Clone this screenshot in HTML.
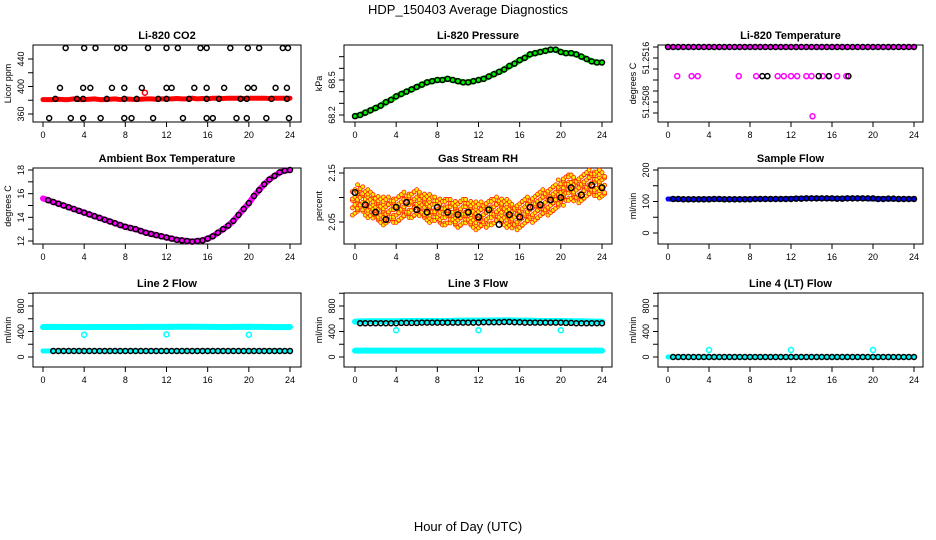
<!DOCTYPE html>
<html><head><meta charset="utf-8"><style>
html,body{margin:0;padding:0;background:#fff;}
svg{display:block;font-family:"Liberation Sans",sans-serif;}
</style></head><body>
<svg id="chart" width="936" height="540" viewBox="0 0 936 540">
<text x="468" y="14" text-anchor="middle" font-size="13">HDP_150403  Average Diagnostics</text>
<text x="468" y="531" text-anchor="middle" font-size="13">Hour of Day (UTC)</text>
</svg>
<script>
const xTicks = [0,4,8,12,16,20,24];
const halfHours = [];
for (let i = 0; i <= 48; i++) halfHours.push(i/2);
const hours = [];
for (let i = 0; i <= 24; i++) hours.push(i);

// CO2
const co2Red = [381,381,381,381.5,381,381,382,381,381,381.5,382,381,381,381.5,382,381,382,381.5,381,381.5,382,382,381.5,382,382,382,382.5,382,382,383,382,382.5,382,383,383,382.5,383,383,383,382.5,383,383,383,383,382.5,383,383,383,383];
const co2TopH = [2.2,4.0,5.1,7.2,7.9,10.2,12.0,13.1,15.3,15.9,18.2,19.9,21.0,23.3,23.8];
const co2MidH = [1.65,3.9,4.6,6.7,7.9,9.6,12.0,12.5,14.7,15.9,17.6,19.9,20.5,22.6,23.7];
const co2LowH = [0.6,2.7,3.9,5.6,7.9,8.6,10.7,13.6,15.9,16.5,18.8,19.8,21.7,23.9];
const co2BaseH = [1.2,3.3,3.9,6.2,7.9,9.1,11.2,12.0,14.2,15.9,17.1,19.2,19.8,22.2,23.7];
const co2TopV = 456, co2MidV = 398, co2LowV = 354, co2BaseV = 382;
const co2OutlierH = [9.9], co2OutlierV = [391];

// Pressure
const pressure = [68.19,68.20,68.22,68.24,68.26,68.28,68.31,68.33,68.36,68.38,68.40,68.42,68.44,68.46,68.48,68.49,68.50,68.50,68.51,68.50,68.49,68.48,68.48,68.49,68.50,68.51,68.53,68.55,68.57,68.59,68.62,68.64,68.67,68.69,68.72,68.73,68.74,68.75,68.76,68.76,68.74,68.73,68.73,68.72,68.70,68.68,68.66,68.65,68.65];

// Li-820 temperature
const tempTop = 51.2518;
const tempMidV = 51.25127;
const tempMidMagentaH = [0.9,2.3,2.9,6.9,8.6,10.7,11.3,12.0,12.6,13.5,14.0,15.1,15.7,16.5,17.4];
const tempMidBlackH = [9.2,9.7,14.7,15.7,17.6];
const tempLowH = [14.1], tempLowV = [51.25054];

// Ambient box temperature
const ambient = [15.6,15.45,15.3,15.15,15.0,14.85,14.7,14.55,14.4,14.25,14.1,13.95,13.8,13.65,13.5,13.35,13.2,13.1,13.0,12.85,12.7,12.6,12.5,12.4,12.3,12.2,12.1,12.05,12.0,11.95,12.0,12.05,12.2,12.4,12.7,13.0,13.3,13.7,14.2,14.7,15.2,15.8,16.3,16.8,17.2,17.5,17.8,17.95,18.0];

// Gas stream RH
const rh = [2.09,2.10,2.09,2.085,2.08,2.075,2.07,2.075,2.075,2.08,2.085,2.085,2.09,2.085,2.08,2.075,2.075,2.07,2.07,2.07,2.065,2.07,2.07,2.065,2.06,2.065,2.07,2.07,2.075,2.07,2.065,2.06,2.065,2.07,2.075,2.08,2.085,2.09,2.095,2.10,2.11,2.12,2.12,2.115,2.12,2.125,2.13,2.13,2.125];
const rhBlack = [2.11,2.085,2.07,2.055,2.08,2.09,2.075,2.07,2.08,2.07,2.065,2.07,2.06,2.075,2.045,2.065,2.06,2.08,2.085,2.095,2.10,2.12,2.105,2.125,2.12];

// Flows
const sampleFlow = [108,107,107,107,108,107,107,107,108,108,108,108,109,110,110,110,109,110,110,110,108,109,108,108,108];
const line2Upper = [470,472,470,470,468,470,470,470,470,470,472,472,472,474,474,474,472,470,470,472,475,472,470,468,470];
const line2Lower = [95,95,95,95,95,95,95,95,95,95,95,95,95,95,95,95,95,95,95,95,95,95,95,95,95];
const line3Upper = [555,560,560,560,560,565,565,565,565,565,570,570,570,570,575,575,570,570,565,565,565,560,560,555,555];
const line3Black = [530,530,530,530,535,535,540,540,540,540,540,540,545,545,550,545,540,540,540,540,535,530,530,530,530];
const line3Lower = [100,100,100,100,100,100,100,100,100,100,100,100,100,100,100,100,100,100,100,100,100,100,100,100,100];
const line4 = [0,0,0,0,0,0,0,0,0,0,0,0,0,0,0,0,0,0,0,0,0,0,0,0,0];
const outH = [4,12,20];
const line2Out = [350,355,350], line3Out = [420,420,420], line4Out = [110,110,110];

const NS = "http://www.w3.org/2000/svg";
const svg = document.getElementById('chart');
const cols = [{l:33,r:301,x0:43,x24:290},{l:344,r:612,x0:355,x24:602},{l:658,r:923,x0:668,x24:914}];
const rows = [{t:45,b:122},{t:168,b:244},{t:293,b:367}];
function mk(tag, attrs, parent){ const e=document.createElementNS(NS,tag); for(const k in attrs) e.setAttribute(k,attrs[k]); (parent||svg).appendChild(e); return e; }

function panel(ci, ri, name, title, ylab, v1, p1, v2, p2, ticks, labels){
  const c=cols[ci], r=rows[ri];
  const g=mk('g',{});
  
  
  const xs=h=>c.x0+(c.x24-c.x0)*h/24;
  const ys=v=>p1+(p2-p1)*(v-v1)/(v2-v1);
  const box=mk('rect',{x:c.l,y:r.t,width:c.r-c.l,height:r.b-r.t,fill:'none',stroke:'#000','stroke-width':1},g);
  
  
  const t=mk('text',{x:(c.l+c.r)/2,y:r.t-6,'text-anchor':'middle','font-size':11,'font-weight':'bold'},g);
  t.textContent=title;
  
  
  const xa=mk('g',{},g);
  
  
  xTicks.forEach(h=>{
    mk('line',{x1:xs(h),x2:xs(h),y1:r.b,y2:r.b+5,stroke:'#000'},xa);
    const tl=mk('text',{x:xs(h),y:r.b+16,'text-anchor':'middle','font-size':9},xa);
    tl.textContent=h;
  });
  const ya=mk('g',{},g);
  
  
  ticks.forEach(v=>{ const y=ys(v); mk('line',{x1:c.l-5,x2:c.l,y1:y,y2:y,stroke:'#000'},ya); });
  labels.forEach(v=>{ const y=ys(v); const tl=mk('text',{x:0,y:0,'text-anchor':'middle','font-size':9,transform:`translate(${c.l-9},${y}) rotate(-90)`},ya); tl.textContent=v; });
  const yl=mk('text',{x:0,y:0,'text-anchor':'middle','font-size':9,transform:`translate(${c.l-22},${(r.t+r.b)/2}) rotate(-90)`},g);
  yl.textContent=ylab;
  
  
  return {g,xs,ys};
}
function thick(P, hs, vs, color, w, name){
  const pl=mk('polyline',{points:hs.map((h,i)=>P.xs(h)+','+P.ys(vs[i])).join(' '),fill:'none',stroke:color,'stroke-width':w,'stroke-linejoin':'round','stroke-linecap':'round'},P.g);
  
  
}
function pts(P, hs, vs, color, name, r){
  const g=mk('g',{},P.g);
  
  
  hs.forEach((h,i)=>{ const v=Array.isArray(vs)?vs[i]:vs; mk('circle',{cx:P.xs(h),cy:P.ys(v),r:r||2.5,fill:'none',stroke:color,'stroke-width':1.5},g); });
}

// Panel 1 CO2
let P=panel(0,0,'co2-panel','Li-820 CO2','Licor ppm',360,114,440,59,[360,380,400,420,440],[360,400,440]);
thick(P,halfHours,co2Red,'#ff0000',5,'co2-red-series');
pts(P,co2OutlierH,co2OutlierV,'#ff0000','co2-red-outlier');
pts(P,co2TopH,co2TopV,'#000','co2-black-top');
pts(P,co2MidH,co2MidV,'#000','co2-black-mid');
pts(P,co2LowH,co2LowV,'#000','co2-black-low');
pts(P,co2BaseH,co2BaseV,'#000','co2-black-base');

// Panel 2 pressure
P=panel(1,0,'pressure-panel','Li-820 Pressure','kPa',68.2,115,68.5,80,[68.2,68.3,68.4,68.5,68.6,68.7],[68.2,68.5]);
thick(P,halfHours,pressure,'#00ee00',6,'pressure-green-series');
pts(P,halfHours,pressure,'#000','pressure-black-points');

// Panel 3 Li-820 temperature
P=panel(2,0,'li820-temp-panel','Li-820 Temperature','degrees C',51.2516,58,51.2508,102,[51.2518,51.2516,51.2514,51.2512,51.2510,51.2508,51.2506],[51.2516,51.2508]);
thick(P,[0,24],[tempTop,tempTop],'#ff00ff',5,'li820-temp-magenta-series');
pts(P,halfHours,tempTop,'#000','li820-temp-black-points');
pts(P,tempMidMagentaH,tempMidV,'#ff00ff','li820-temp-magenta-mid');
pts(P,tempMidBlackH,tempMidV,'#000','li820-temp-black-mid');
pts(P,tempLowH,tempLowV,'#ff00ff','li820-temp-magenta-low');

// Panel 4 ambient
P=panel(0,1,'ambient-temp-panel','Ambient Box Temperature','degrees C',12,241,18,170,[12,13,14,15,16,17,18],[12,14,16,18]);
thick(P,halfHours,ambient,'#ff00ff',6,'ambient-magenta-series');
pts(P,halfHours.slice(1),ambient.slice(1),'#000','ambient-black-points');

// Panel 5 RH
P=panel(1,1,'rh-panel','Gas Stream RH','percent',2.05,222,2.15,173,[2.05,2.10,2.15],[2.05,2.15]);
(function(){
  const g=mk('g',{},P.g);
  
  
  const dys=[-0.022,-0.011,0,0.011,0.022], dxs=[-0.25,0,0.25];
  halfHours.forEach((h,i)=>{ dys.forEach((dy,j)=>dxs.forEach((dx,k)=>{ mk('circle',{cx:P.xs(h+dx),cy:P.ys(rh[i]+dy+((i+j+k)%3-1)*0.004),r:2,fill:'#ffee00',stroke:'#ff2000','stroke-width':0.8},g); })); });
})();
pts(P,hours,rhBlack,'#000','rh-black-points',2.8);

// Panel 6 sample flow
P=panel(2,1,'sample-flow-panel','Sample Flow','ml/min',0,233,200,170,[0,50,100,150,200],[0,100,200]);
thick(P,hours,sampleFlow,'#0000ff',5,'sample-flow-blue-series');
pts(P,halfHours.slice(1),sampleFlow.flatMap((v,i)=>i<24?[v,v]:[]),'#000','sample-flow-black-points');

// Panel 7 line 2
P=panel(0,2,'line2-flow-panel','Line 2 Flow','ml/min',0,357,800,306,[0,200,400,600,800,1000],[0,400,800]);
thick(P,hours,line2Upper,'#00ffff',6,'line2-cyan-upper');
thick(P,hours,line2Lower,'#00ffff',5,'line2-cyan-lower');
pts(P,halfHours.slice(2),line2Lower.flatMap((v,i)=>i<24?[v,v]:[]).slice(1),'#000','line2-black-points');
pts(P,outH,line2Out,'#00ffff','line2-cyan-outliers');

// Panel 8 line 3
P=panel(1,2,'line3-flow-panel','Line 3 Flow','ml/min',0,357,800,306,[0,200,400,600,800,1000],[0,400,800]);
thick(P,hours,line3Upper,'#00ffff',6,'line3-cyan-upper');
thick(P,hours,line3Lower,'#00ffff',6,'line3-cyan-lower');
pts(P,halfHours.slice(1),line3Black.flatMap((v,i)=>i<24?[v,v]:[]),'#000','line3-black-points');
pts(P,outH,line3Out,'#00ffff','line3-cyan-outliers');

// Panel 9 line 4
P=panel(2,2,'line4-flow-panel','Line 4 (LT) Flow','ml/min',0,357,800,306,[0,200,400,600,800,1000],[0,400,800]);
thick(P,hours,line4,'#00ffff',5,'line4-cyan-series');
pts(P,halfHours.slice(1),line4.flatMap((v,i)=>i<24?[v,v]:[]),'#000','line4-black-points');
pts(P,outH,line4Out,'#00ffff','line4-cyan-outliers');
</script>
</body></html>
